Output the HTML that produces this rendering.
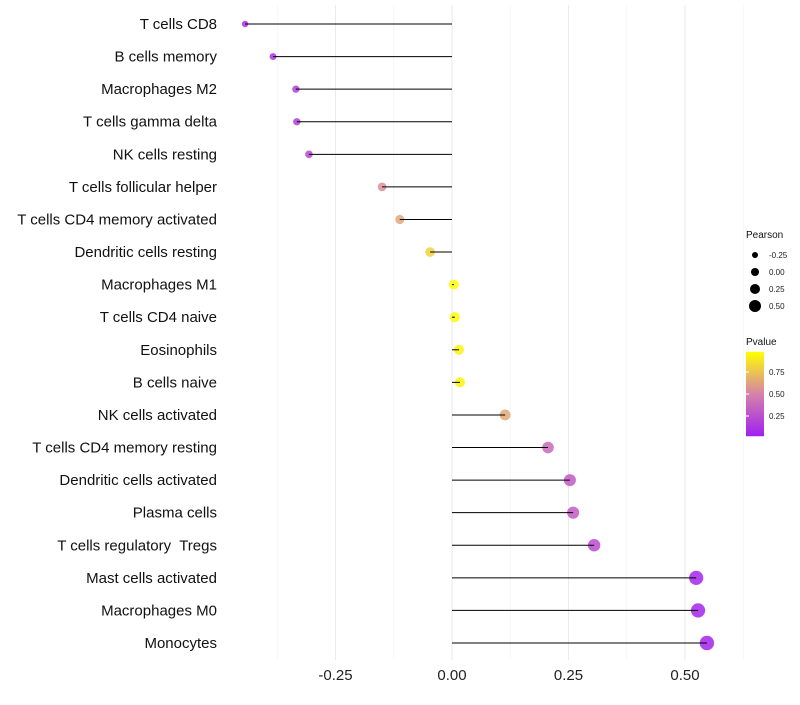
<!DOCTYPE html>
<html><head><meta charset="utf-8"><style>
body{margin:0;background:#fff;font-family:"Liberation Sans",sans-serif}
text{white-space:pre}
</style></head><body>
<svg id="chart" width="800" height="700" font-family="Liberation Sans, sans-serif"></svg>
<script>
const categories=["T cells CD8","B cells memory","Macrophages M2","T cells gamma delta","NK cells resting","T cells follicular helper","T cells CD4 memory activated","Dendritic cells resting","Macrophages M1","T cells CD4 naive","Eosinophils","B cells naive","NK cells activated","T cells CD4 memory resting","Dendritic cells activated","Plasma cells","T cells regulatory  Tregs","Mast cells activated","Macrophages M0","Monocytes"];
const pearson=[-0.444,-0.384,-0.335,-0.333,-0.307,-0.150,-0.112,-0.047,0.004,0.006,0.015,0.017,0.114,0.206,0.253,0.260,0.305,0.524,0.528,0.547];
const pvalue=[0.08,0.1,0.15,0.15,0.2,0.55,0.65,0.82,0.99,0.98,0.96,0.95,0.65,0.38,0.3,0.3,0.22,0.03,0.03,0.02];
const xTicks=[-0.25,0,0.25,0.5];
const xTickLabels=["-0.25","0.00","0.25","0.50"];
const sizeLegend=[-0.25,0,0.25,0.5];
const sizeLegendLabels=["-0.25","0.00","0.25","0.50"];
const pTicks=[0.25,0.5,0.75];
const pTickLabels=["0.25","0.50","0.75"];

const NS="http://www.w3.org/2000/svg";
const svg=document.getElementById('chart');
function mk(t,a,p){const e=document.createElementNS(NS,t);for(const k in a)e.setAttribute(k,a[k]);(p||svg).appendChild(e);return e;}
const xS=v=>452+v*466;
const yS=i=>24+i*(643-24)/19;
const rS=v=>5+4*v;
function lerp(a,b,t){return a.map((x,i)=>Math.round(x+(b[i]-x)*t));}
function col(p){const s=[[160,32,240],[214,130,170],[255,255,0]];
 const c=p<0.5?lerp(s[0],s[1],p/0.5):lerp(s[1],s[2],(p-0.5)/0.5);return `rgb(${c})`;}
[-0.375,-0.125,0.125,0.375,0.625].forEach(v=>{const g=mk('line',{x1:xS(v),x2:xS(v),y1:5,y2:660,stroke:'#f3f3f3','stroke-width':0.6});
});
xTicks.forEach((v,i)=>{const g=mk('line',{x1:xS(v),x2:xS(v),y1:5,y2:660,stroke:'#ebebeb','stroke-width':1.1});

const t=mk('text',{x:xS(v),y:680,'text-anchor':'middle','font-size':15,fill:'#222'});t.textContent=xTickLabels[i];
});
categories.forEach((c,i)=>{const y=yS(i);
 const t=mk('text',{x:217,y:y+5,'text-anchor':'end','font-size':15,fill:'#111'});t.textContent=c;
 
 const pt=mk('circle',{cx:xS(pearson[i]),cy:y,r:rS(pearson[i]),fill:col(pvalue[i]),'fill-opacity':0.85});
 
 const l=mk('line',{x1:xS(0),x2:xS(pearson[i]),y1:y,y2:y,stroke:'#000','stroke-width':1});
 
});
let t=mk('text',{x:746,y:238,'font-size':10,fill:'#111'});t.textContent='Pearson';

sizeLegend.forEach((v,i)=>{const y=255+i*17;
 const c=mk('circle',{cx:755,cy:y,r:rS(v)-1,fill:'#000'});
 const tx=mk('text',{x:769,y:y+3,'font-size':8,fill:'#222'});tx.textContent=sizeLegendLabels[i];
 });
t=mk('text',{x:746,y:345,'font-size':10,fill:'#111'});t.textContent='Pvalue';

const defs=mk('defs',{});const gr=mk('linearGradient',{id:'pg',x1:0,y1:1,x2:0,y2:0},defs);
for(let k=0;k<=10;k++)mk('stop',{offset:k/10,'stop-color':col(k/10)},gr);
const pY=v=>438-v*88;
const bar=mk('rect',{x:746,y:pY(0.98),width:18,height:pY(0.02)-pY(0.98),fill:'url(#pg)'});

pTicks.forEach((v,i)=>{const tx=mk('text',{x:769,y:pY(v)+3,'font-size':8,fill:'#222'});tx.textContent=pTickLabels[i];
 
 const tk=mk('line',{x1:746,x2:749,y1:pY(v),y2:pY(v),stroke:'#fff'});});
</script>
</body></html>
